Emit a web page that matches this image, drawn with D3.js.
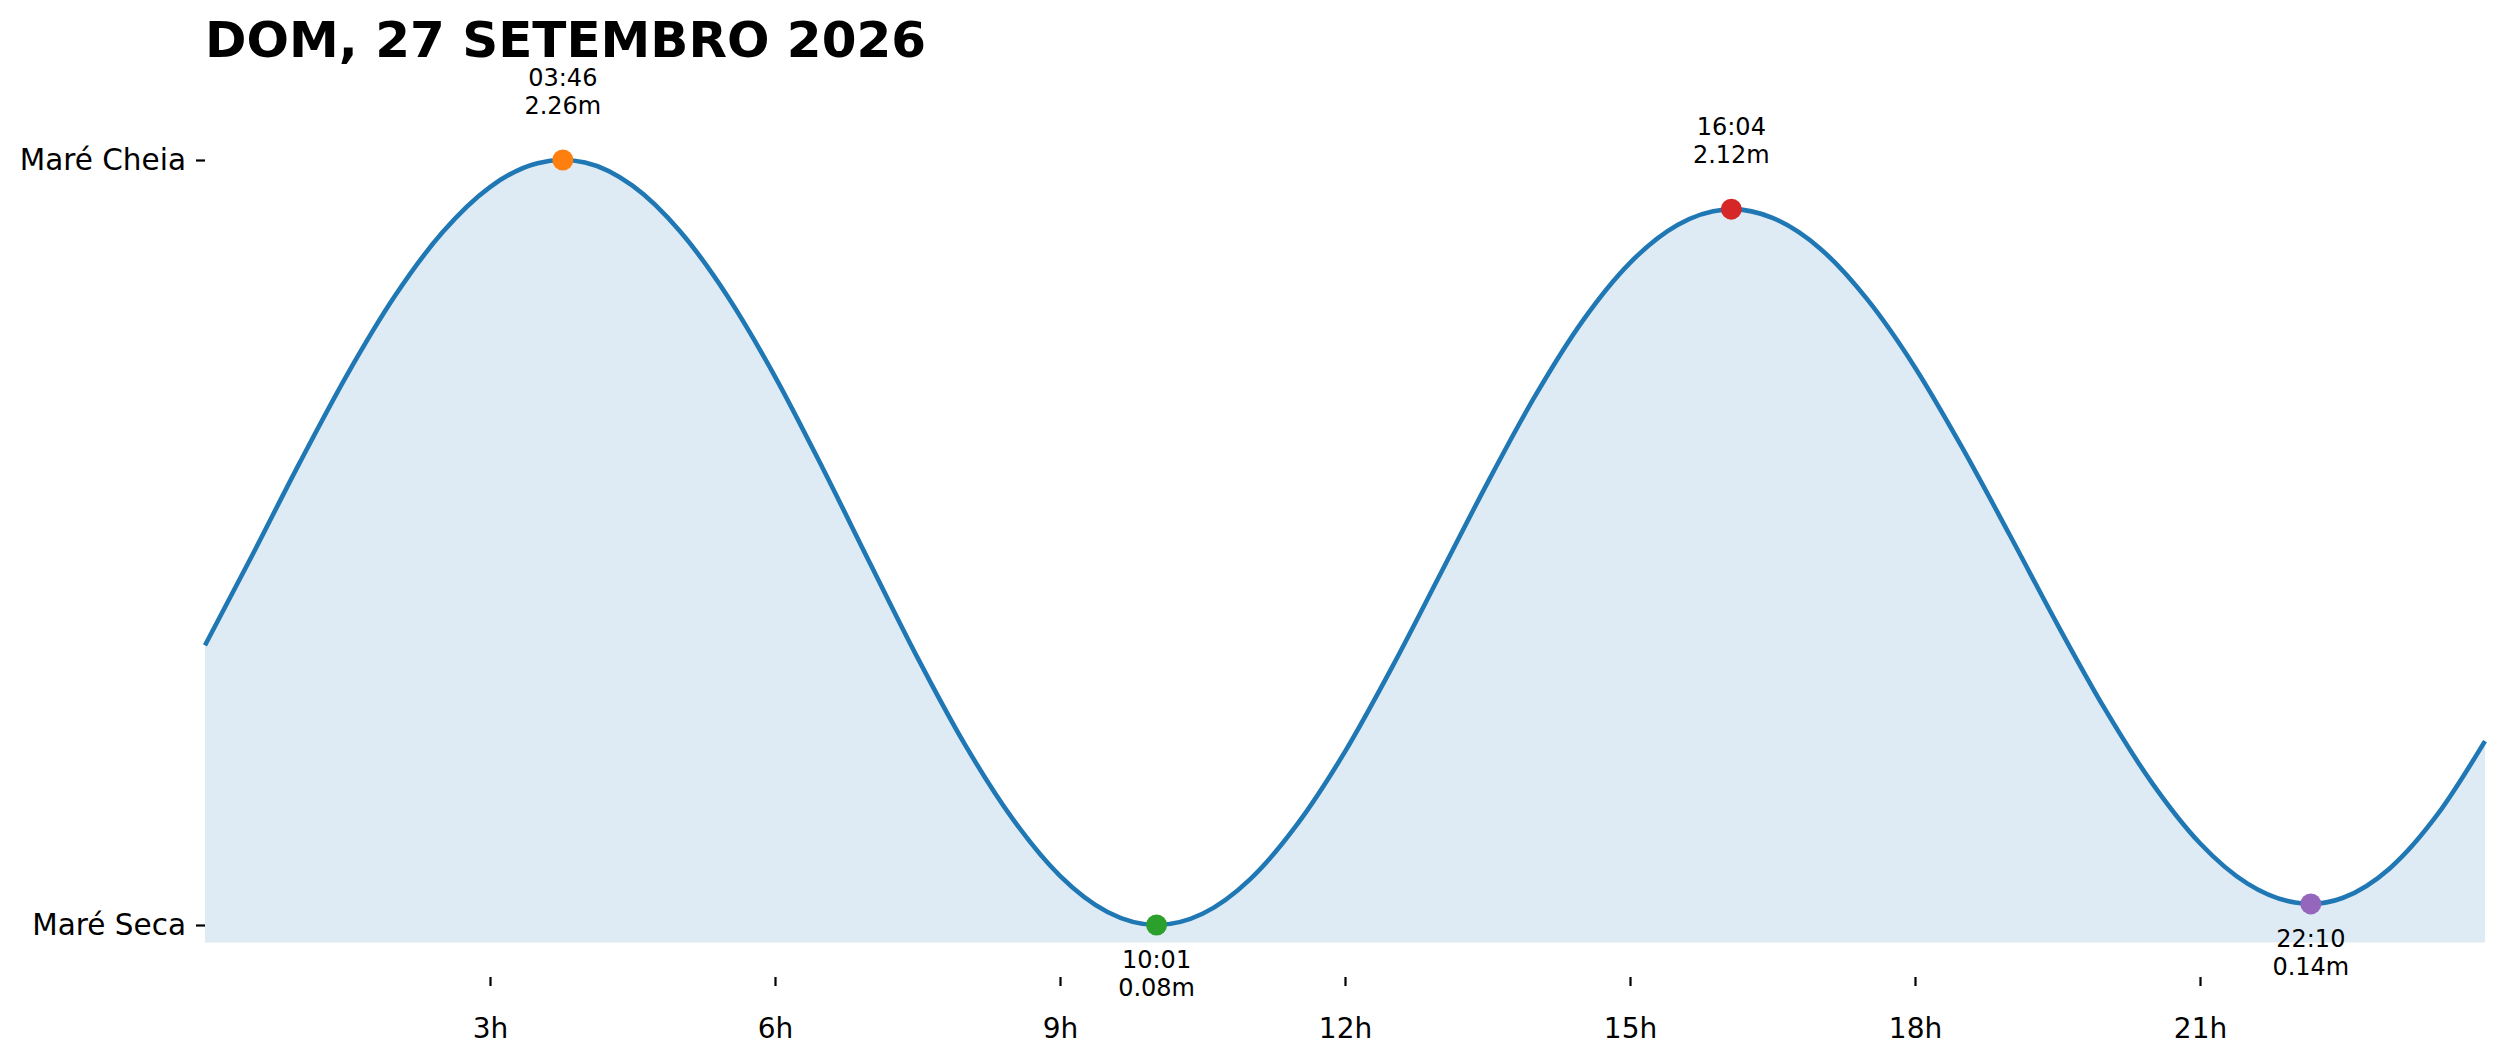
<!DOCTYPE html>
<html>
<head>
<meta charset="utf-8">
<script src="https://cdn.jsdelivr.net/npm/d3@7"></script>
<style>
  body { margin: 0; background: #fff; }
  svg { display: block; }
</style>
</head>
<body>
<div id="chart"></div>
<script>
// tide curve (hour of day, height in m)
const hours = [0, 0.5, 1, 1.5, 2, 2.5, 3, 3.5, 3.767, 4, 4.5, 5, 5.5, 6, 6.5, 7, 7.5, 8, 8.5, 9, 9.5,
    10.017, 10.5, 11, 11.5, 12, 12.5, 13, 13.5, 14, 14.5, 15, 15.5, 16, 16.067, 16.5, 17, 17.5, 18,
    18.5, 19, 19.5, 20, 20.5, 21, 21.5, 22, 22.167, 22.5, 23, 23.5, 24];
const heights = [0.877, 1.135, 1.399, 1.650, 1.873, 2.054, 2.183, 2.251, 2.26, 2.253, 2.187, 2.057, 1.872,
    1.643, 1.383, 1.111, 0.842, 0.594, 0.383, 0.220, 0.117, 0.08, 0.112, 0.210, 0.368, 0.574, 0.817,
    1.078, 1.340, 1.587, 1.801, 1.967, 2.075, 2.119, 2.12, 2.095, 2.008, 1.862, 1.669, 1.439, 1.190,
    0.936, 0.695, 0.483, 0.313, 0.198, 0.144, 0.14, 0.157, 0.242, 0.395, 0.604];

// high / low tides
const extremeTimes = ["03:46", "10:01", "16:04", "22:10"];
const extremeHeights = [2.26, 0.08, 2.12, 0.14];
const extremeIsHigh = [true, false, true, false];

const xTicks = [3, 6, 9, 12, 15, 18, 21];
const yTickLabels = ["Maré Cheia", "Maré Seca"];
const title = "DOM, 27 SETEMBRO 2026";

const markerColors = ["#ff7f0e", "#2ca02c", "#d62728", "#9467bd"];
const font = "DejaVu Sans, Liberation Sans, sans-serif";

const W = 2501, H = 1062;
const left = 205, right = 2485;

const data = hours.map((h, i) => ({ t: h, v: heights[i] }));
const extremes = extremeTimes.map((s, i) => {
    const [hh, mm] = s.split(":").map(Number);
    return { label: s, t: hh + mm / 60, v: extremeHeights[i], high: extremeIsHigh[i], color: markerColors[i] };
});

const vMax = d3.max(extremeHeights), vMin = d3.min(extremeHeights);
const baseline = vMin - 0.05;

const svg = d3.select("#chart")
    .append("svg")
    .attr("width", W)
    .attr("height", H);

const x = d3.scaleLinear().domain([0, 24]).range([left, right]);
const y = d3.scaleLinear().domain([vMin, vMax]).range([925, 160]);

// filled area under the curve
const area = d3.area()
    .curve(d3.curveMonotoneX)
    .x(d => x(d.t))
    .y0(y(baseline))
    .y1(d => y(d.v));

svg.append("path")
    .datum(data)
    .attr("d", area)
    .attr("fill", "#1f77b4")
    .attr("fill-opacity", 0.15);

const line = d3.line()
    .curve(d3.curveMonotoneX)
    .x(d => x(d.t))
    .y(d => y(d.v));

svg.append("path")
    .datum(data)
    .attr("d", line)
    .attr("fill", "none")
    .attr("stroke", "#1f77b4")
    .attr("stroke-width", 4.6);

// markers
svg.selectAll(".dot")
    .data(extremes)
    .join("circle")
    .attr("class", "dot")
    .attr("cx", d => x(d.t))
    .attr("cy", d => y(d.v))
    .attr("r", 10.5)
    .attr("fill", d => d.color);

// annotations
const ann = svg.selectAll(".ann")
    .data(extremes)
    .join("text")
    .attr("class", "ann")
    .attr("text-anchor", "middle")
    .attr("font-family", font)
    .attr("font-size", 24)
    .attr("fill", "#000");

ann.append("tspan")
    .attr("x", d => x(d.t))
    .attr("y", d => y(d.v) + (d.high ? -83 : 34) + 8.7)
    .text(d => d.label);
ann.append("tspan")
    .attr("x", d => x(d.t))
    .attr("y", d => y(d.v) + (d.high ? -55 : 62) + 8.7)
    .text(d => d.v.toFixed(2) + "m");

// x axis
const xAxis = svg.append("g")
    .attr("transform", "translate(0, 977)")
    .call(d3.axisBottom(x).tickValues(xTicks).tickFormat(d => d + "h").tickSize(9).tickPadding(32));
xAxis.select(".domain").remove();
xAxis.selectAll(".tick line").attr("stroke", "#000").attr("stroke-width", 2.2);
xAxis.selectAll("text").attr("font-family", font).attr("font-size", 28).attr("fill", "#000");

// y axis
const yAxis = svg.append("g")
    .attr("transform", `translate(${left}, 0)`)
    .call(d3.axisLeft(y).tickValues([vMax, vMin]).tickFormat((d, i) => yTickLabels[i]).tickSize(9).tickPadding(10));
yAxis.select(".domain").remove();
yAxis.selectAll(".tick line").attr("stroke", "#000").attr("stroke-width", 2.2);
yAxis.selectAll("text").attr("font-family", font).attr("font-size", 29.5).attr("fill", "#000");

// title
svg.append("text")
    .attr("x", left)
    .attr("y", 57)
    .attr("font-family", font)
    .attr("font-weight", "bold")
    .attr("font-size", 50)
    .attr("fill", "#000")
    .text(title);
</script>
</body>
</html>
